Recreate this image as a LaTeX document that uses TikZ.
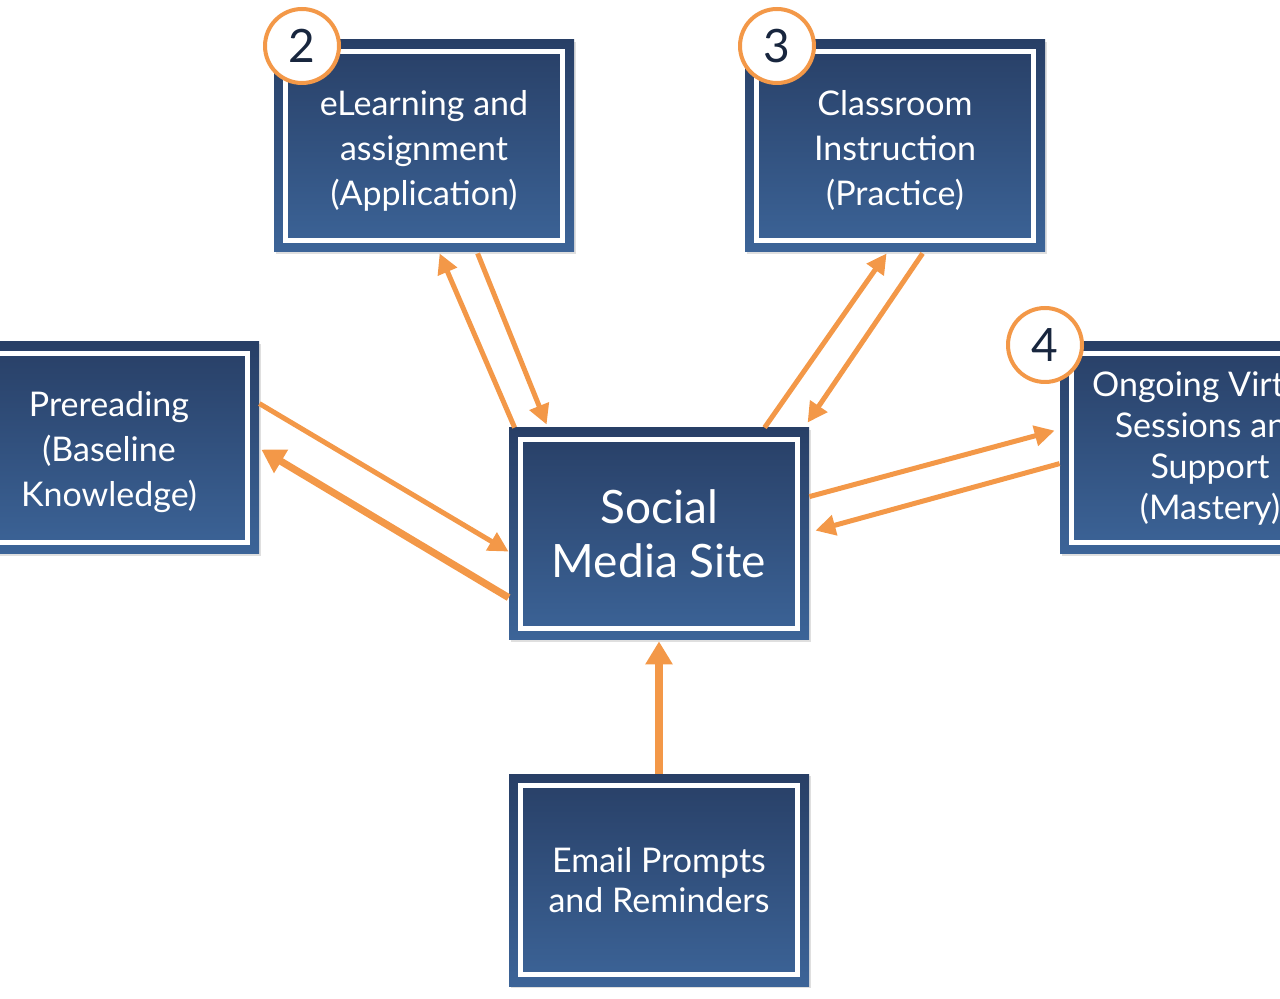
\documentclass[tikz,border=0pt]{standalone}
\usepackage{fontspec}
\setmainfont{Lato}
\usetikzlibrary{arrows.meta,calc,shadows}
\definecolor{boxtop}{RGB}{40,63,102}
\definecolor{boxbot}{RGB}{60,100,152}
\definecolor{flow}{RGB}{243,152,72}
\definecolor{numblue}{RGB}{24,38,62}

\begin{document}
\begin{tikzpicture}[x=0.5pt, y=-0.5pt,
	every node/.style={font=\fontsize{17}{22.5}\selectfont},
	stagebox/.style={minimum width=150pt, minimum height=106pt, inner sep=0pt, top color=boxtop, bottom color=boxbot, text=white, align=center,
		drop shadow={shadow xshift=1.2pt, shadow yshift=-1.2pt, opacity=0.25},
		path picture={\draw[white, line width=2.6pt] ([shift={(5.8pt,-5.8pt)}]path picture bounding box.north west) rectangle ([shift={(-5.8pt,5.8pt)}]path picture bounding box.south east);}},
	numcircle/.style={circle, draw=flow, line width=2pt, fill=white, minimum size=37pt, inner sep=0pt, text=numblue, font=\fontsize{23}{23}\selectfont},
	flowline/.style={draw=flow, line width=2.5pt, -{Triangle[length=10pt, width=10pt]}},
	flowthick/.style={flowline, line width=3.6pt, -{Triangle[length=11.5pt, width=13pt]}}]
	\useasboundingbox (0,0) rectangle (1280,999);
	\clip (0,0) rectangle (1280,999);

	% stages
	\node[stagebox] (prereading) at (109,448) {\rule{0pt}{17pt}Prereading\\(Baseline\\Knowledge)};
	\node[stagebox] (elearn) at (424,146) {\rule{0pt}{17pt}eLearning and\\assignment\\(Application)};
	\node[stagebox] (classroom) at (895,146) {\rule{0pt}{17pt}Classroom\\Instruction\\(Practice)};
	\node[stagebox, font=\fontsize{17}{20.5}\selectfont] (ongoing) at (1210,448) {Ongoing Virtual\\Sessions and\\Support\\(Mastery)};
	\node[stagebox, font=\fontsize{23}{27}\selectfont] (social) at (659,534) {Social\\Media Site};
	\node[stagebox, font=\fontsize{17}{20}\selectfont] (email) at (659,880) {Email Prompts\\and Reminders};

	% step numbers
	\node[numcircle] (num2) at (302,46) {2};
	\node[numcircle] (num3) at (777,46) {3};
	\node[numcircle] (num4) at (1045,345) {4};

	% connectors
	\draw[flowline] ($(social.north west)+(6,0)$) -- ($(elearn.south west)+(166,1)$);
	\draw[flowline] ($(elearn.south west)+(204,1)$) -- ($(social.north west)+(38,-3)$);
	\draw[flowline] ($(social.north west)+(256,0)$) -- ($(classroom.south west)+(142,1)$);
	\draw[flowline] ($(classroom.south west)+(178,1)$) -- ($(social.north west)+(299,-5)$);
	\draw[flowline] ($(prereading.north east)+(0,62)$) -- ($(social.north west)+(0,124)$);
	\draw[flowthick] ($(social.north west)+(0,170)$) -- ($(prereading.north east)+(2,108)$);
	\draw[flowline] ($(social.north east)+(0,69)$) -- ($(ongoing.north west)+(-5,89)$);
	\draw[flowline] ($(ongoing.north west)+(0,122)$) -- ($(social.north east)+(6,103)$);
	\draw[flowthick] (email.north) -- ($(social.south)+(0,1)$);
\end{tikzpicture}
\end{document}
